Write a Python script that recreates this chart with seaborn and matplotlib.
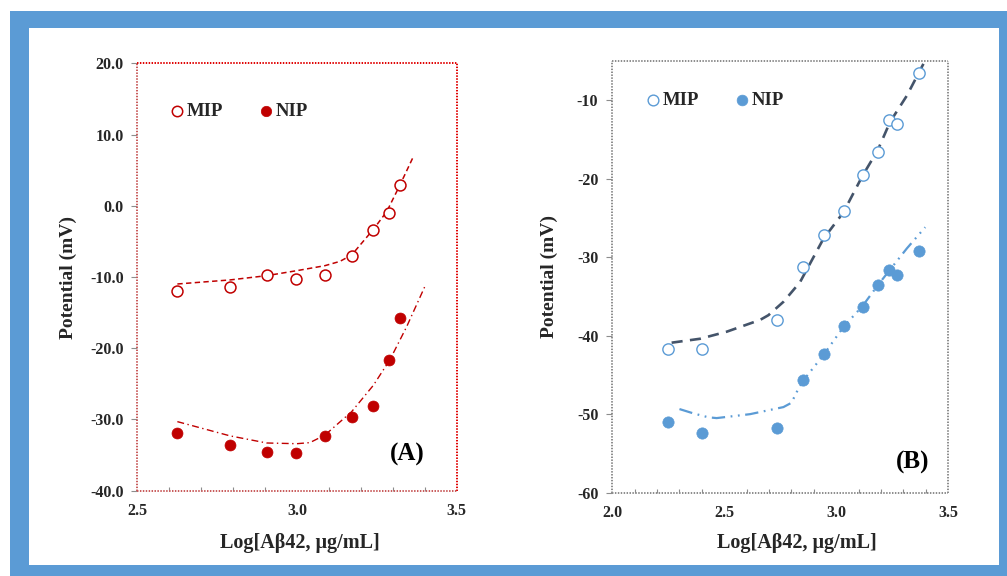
import numpy as np
import pandas as pd
import matplotlib
matplotlib.use("Agg")
import matplotlib.pyplot as plt
from matplotlib.patches import Rectangle
from matplotlib.ticker import MultipleLocator, FormatStrFormatter
import seaborn as sns

# ---------------- data ----------------
a_x = [2.623, 2.790, 2.905, 2.997, 3.087, 3.171, 3.237, 3.289, 3.322]
a_mip = [-12.0, -11.4, -9.7, -10.2, -9.7, -7.0, -3.4, -1.0, 3.0]
a_nip = [-31.9, -33.6, -34.5, -34.7, -32.3, -29.7, -28.1, -21.6, -15.7]

a_mip_fit_x = [2.625, 2.79, 2.905, 2.999, 3.087, 3.134, 3.171, 3.239, 3.281, 3.322, 3.362]
a_mip_fit_y = [-10.97, -10.4, -9.8, -9.1, -8.4, -7.8, -6.9, -3.3, -0.8, 2.9, 6.7]
a_nip_fit_x = [2.625, 2.79, 2.905, 2.999, 3.04, 3.087, 3.171, 3.239, 3.291, 3.343, 3.40]
a_nip_fit_y = [-30.3, -32.3, -33.3, -33.4, -33.25, -32.2, -28.9, -25.2, -21.6, -17.0, -11.35]

b_x = [2.250, 2.399, 2.737, 2.853, 2.945, 3.034, 3.118, 3.185, 3.237, 3.273, 3.370]
b_mip = [-41.7, -41.7, -37.95, -31.3, -27.2, -24.1, -19.6, -16.6, -12.6, -13.05, -6.6]
b_nip = [-50.97, -52.4, -51.7, -45.6, -42.4, -38.8, -36.3, -33.5, -31.7, -32.3, -29.2]

b_mip_fit_x = [2.265, 2.392, 2.511, 2.66, 2.697, 2.764, 2.838, 2.942, 3.032, 3.118, 3.185, 3.24, 3.315, 3.389]
b_mip_fit_y = [-40.9, -40.4, -39.5, -38.0, -37.4, -35.7, -33.2, -27.7, -24.3, -19.6, -16.4, -12.8, -9.45, -5.4]
b_nip_fit_x = [2.30, 2.362, 2.429, 2.466, 2.615, 2.764, 2.80, 2.824, 2.853, 2.942, 3.032, 3.118, 3.185, 3.24, 3.315, 3.397]
b_nip_fit_y = [-49.35, -49.9, -50.4, -50.5, -50.0, -49.1, -48.55, -47.15, -45.7, -42.5, -38.9, -36.2, -33.6, -31.6, -28.9, -26.2]

series_labels = ["MIP", "NIP"]
x_label = "Log[A\u03b242, \u03bcg/mL]"
y_label = "Potential (mV)"
panel_labels = ["(A)", "(B)"]

# ---------------- style ----------------
sns.set_theme(style="white")
plt.rcParams["font.family"] = ["Liberation Serif", "DejaVu Serif"]
plt.rcParams["font.weight"] = "bold"
plt.rcParams["axes.labelweight"] = "bold"

RED = "#C00000"
BLUE = "#5B9BD5"
SLATE = "#44546A"
FRAME = "#5B9BD5"

fig = plt.figure(figsize=(10.07, 5.76), dpi=100)
fig.patch.set_facecolor("white")
# blue picture frame
fig.patches.append(Rectangle((10 / 1007, 0), 1 - 10 / 1007, 1 - 11 / 576,
                             transform=fig.transFigure, facecolor=FRAME,
                             edgecolor="none", zorder=-10))
fig.patches.append(Rectangle((29 / 1007, 1 - 565 / 576), (999 - 29) / 1007, (565 - 28) / 576,
                             transform=fig.transFigure, facecolor="white",
                             edgecolor="none", zorder=-9))

axA = fig.add_axes([0.1365, 0.1481, 0.3170, 0.7417])
axB = fig.add_axes([0.6080, 0.1446, 0.3337, 0.7500])
for ax in (axA, axB):
    ax.set_facecolor("none")


def dotted_spine(sp, color):
    sp.set_color(color)
    sp.set_linewidth(1.4)
    sp.set_linestyle((0, (0.75, 0.75)))
    sp.set_capstyle("butt")


# ---------------- panel A ----------------
sns.lineplot(x=a_mip_fit_x, y=a_mip_fit_y, ax=axA, color=RED, lw=1.1,
             linestyle=(0, (3.5, 2.2)), sort=False, estimator=None, legend=False)
sns.lineplot(x=a_nip_fit_x, y=a_nip_fit_y, ax=axA, color=RED, lw=1.0,
             linestyle=(0, (5, 2.5, 1, 2.5)), sort=False, estimator=None, legend=False)
sns.scatterplot(x=a_x, y=a_mip, ax=axA, s=62, marker="o", facecolor="white",
                edgecolor=RED, linewidth=1.1, label=series_labels[0], zorder=3)
sns.scatterplot(x=a_x, y=a_nip, ax=axA, s=62, marker="o", color=RED,
                edgecolor=RED, linewidth=0.5, label=series_labels[1], zorder=3)

axA.set_xlim(2.5, 3.5)
axA.set_ylim(-40, 20)
axA.xaxis.set_major_locator(MultipleLocator(0.5))
axA.xaxis.set_minor_locator(MultipleLocator(0.1))
axA.yaxis.set_major_locator(MultipleLocator(10))
axA.xaxis.set_major_formatter(FormatStrFormatter("%.1f"))
axA.yaxis.set_major_formatter(FormatStrFormatter("%.1f"))
for side in ("top", "right"):
    dotted_spine(axA.spines[side], "#E00000")
for side in ("left", "bottom"):
    dotted_spine(axA.spines[side], "#C85A5A")

axA.text(0.845, 0.085, panel_labels[0], transform=axA.transAxes, fontsize=18,
         fontweight="bold", ha="center", va="center", color="black")

# ---------------- panel B ----------------
sns.lineplot(x=b_mip_fit_x, y=b_mip_fit_y, ax=axB, color=SLATE, lw=1.9,
             linestyle=(0, (4.2, 2.8)), sort=False, estimator=None, legend=False)
sns.lineplot(x=b_nip_fit_x, y=b_nip_fit_y, ax=axB, color=BLUE, lw=1.6,
             linestyle=(0, (6, 2.5, 0.8, 2.5, 0.8, 2.5)), sort=False, estimator=None, legend=False)
sns.scatterplot(x=b_x, y=b_mip, ax=axB, s=66, marker="o", facecolor="white",
                edgecolor=BLUE, linewidth=1.0, label=series_labels[0], zorder=3)
sns.scatterplot(x=b_x, y=b_nip, ax=axB, s=66, marker="o", color=BLUE,
                edgecolor=BLUE, linewidth=0.5, label=series_labels[1], zorder=3)

axB.set_xlim(2.0, 3.5)
axB.set_ylim(-60, -5)
axB.xaxis.set_major_locator(MultipleLocator(0.5))
axB.xaxis.set_minor_locator(MultipleLocator(0.1))
axB.set_yticks([-60, -50, -40, -30, -20, -10])
axB.xaxis.set_major_formatter(FormatStrFormatter("%.1f"))
axB.yaxis.set_major_formatter(FormatStrFormatter("%d"))
for side in ("top", "right", "left", "bottom"):
    dotted_spine(axB.spines[side], "#8C8C8C")

axB.text(0.893, 0.07, panel_labels[1], transform=axB.transAxes, fontsize=18,
         fontweight="bold", ha="center", va="center", color="black")

# ---------------- common axis cosmetics ----------------
for ax, ylx, xly, xlx in ((axA, -0.19, -0.099, 0.509), (axB, -0.16, -0.093, 0.549)):
    ax.tick_params(axis="x", which="major", direction="in", length=4, width=0.8,
                   color="#8C8C8C", pad=9, labelsize=11.5)
    ax.tick_params(axis="x", which="minor", direction="in", length=3, width=0.8,
                   color="#8C8C8C", bottom=True)
    ax.tick_params(axis="y", which="major", direction="out", length=4, width=0.8,
                   color="#8C8C8C", pad=6, labelsize=11.5, left=True)
    for lab in ax.get_xticklabels() + ax.get_yticklabels():
        lab.set_fontweight("bold")
    ax.set_xlabel(x_label, fontsize=14.5, fontweight="bold")
    ax.set_ylabel(y_label, fontsize=14, fontweight="bold")
    ax.xaxis.set_label_coords(xlx, xly)
    ax.yaxis.set_label_coords(ylx, 0.5)
    ax.xaxis.label.set_va("top")
    ax.grid(False)

legA = axA.legend(loc="upper left", bbox_to_anchor=(0.07, 0.926), ncol=2, frameon=False,
                  handletextpad=0.05, columnspacing=1.75, borderaxespad=0,
                  prop={"size": 13.5, "weight": "bold"}, handlelength=1.0, markerscale=0.95)
legB = axB.legend(loc="upper left", bbox_to_anchor=(0.07, 0.946), ncol=2, frameon=False,
                  handletextpad=0.05, columnspacing=1.75, borderaxespad=0,
                  prop={"size": 13.5, "weight": "bold"}, handlelength=1.0, markerscale=0.95)

fig.savefig("out.png", dpi=100, facecolor="white")
